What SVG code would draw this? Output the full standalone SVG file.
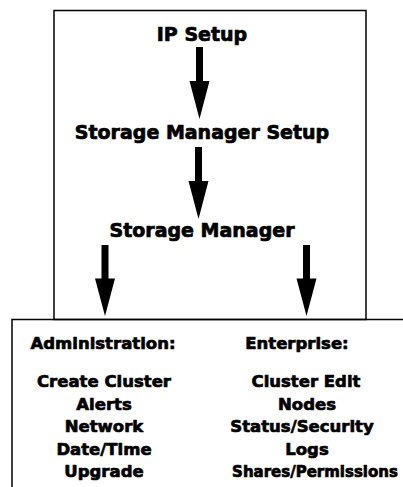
<svg xmlns="http://www.w3.org/2000/svg" width="403" height="487" viewBox="0 0 403 487">
<style>
text{font-family:"DejaVu Sans","Liberation Sans",sans-serif;font-weight:bold;fill:#000;stroke:#000;stroke-width:0.7;stroke-linejoin:round;text-anchor:middle}
.big{font-size:19px}
.sm{font-size:16.5px}
.box{fill:none;stroke:#000;stroke-width:1.5}
.arrow{fill:#000;stroke:none}
</style>
<defs>
<path id="arr" d="M-3.5,0 H3.5 V34 H10 L0,72 L-10,34 H-3.5 Z"/>
</defs>
<rect id="frame-top" class="box" x="54" y="10.5" width="312" height="309"/>
<rect id="frame-bottom" class="box" x="12" y="319.5" width="400" height="180"/>
<g id="connectors">
<use href="#arr" class="arrow" transform="translate(199.5,47)"/>
<use href="#arr" class="arrow" transform="translate(198.5,147)"/>
<use href="#arr" class="arrow" transform="translate(105,245) scale(1,0.986)"/>
<use href="#arr" class="arrow" transform="translate(306.5,245) scale(1,0.986)"/>
</g>
<g id="node-ip-setup"><text class="big" x="202" y="41">IP Setup</text></g>
<g id="node-sm-setup"><text class="big" x="202" y="139">Storage Manager Setup</text></g>
<g id="node-sm"><text class="big" x="202" y="237">Storage Manager</text></g>
<g id="node-admin">
<text class="sm" x="103" y="349">Administration:</text>
<text class="sm" x="104" y="387">Create Cluster</text>
<text class="sm" x="104" y="409.5">Alerts</text>
<text class="sm" x="104" y="432">Network</text>
<text class="sm" x="104" y="454.5">Date/Time</text>
<text class="sm" x="104" y="477">Upgrade</text>
</g>
<g id="node-enterprise">
<text class="sm" x="297" y="349">Enterprise:</text>
<text class="sm" x="306" y="387">Cluster Edit</text>
<text class="sm" x="307" y="409.5">Nodes</text>
<text class="sm" x="302" y="432">Status/Security</text>
<text class="sm" x="307" y="454.5">Logs</text>
<text x="315" y="477" style="font-size:15px">Shares/Permissions</text>
</g>
</svg>
